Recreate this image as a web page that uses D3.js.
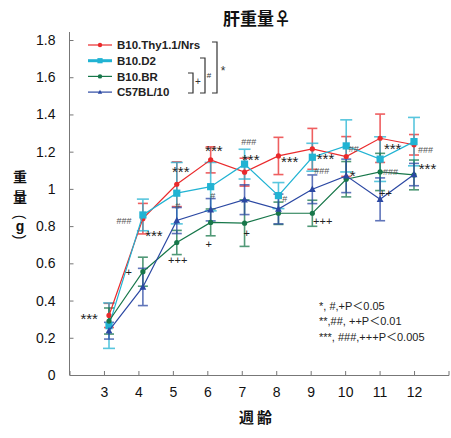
<!DOCTYPE html>
<html>
<head>
<meta charset="utf-8">
<script src="https://cdn.jsdelivr.net/npm/d3@7"></script>
<style>
  body { margin: 0; background: #fff; }
  text { font-family: "Liberation Sans", Arial, sans-serif; }
  .jp { font-family: "Noto Sans CJK JP", sans-serif; }
</style>
</head>
<body>
<script>
// weeks of age
let weeks = [3, 4, 5, 6, 7, 8, 9, 10, 11, 12]

// liver weight (g), mean and error per strain
let thyMean = [0.32, 0.84, 1.025, 1.156, 1.09, 1.177, 1.215, 1.174, 1.272, 1.237]
let thyErr  = [0.065, 0.082, 0.12, 0.07, 0.075, 0.1, 0.11, 0.107, 0.13, 0.055]
let d2Mean  = [0.265, 0.86, 0.977, 1.012, 1.133, 0.964, 1.17, 1.231, 1.16, 1.254]
let d2Err   = [0.122, 0.085, 0.165, 0.13, 0.08, 0.07, 0.075, 0.14, 0.12, 0.13]
let brMean  = [0.29, 0.555, 0.712, 0.82, 0.816, 0.869, 0.869, 1.052, 1.091, 1.075]
let brErr   = [0.07, 0.078, 0.065, 0.072, 0.125, 0.06, 0.07, 0.095, 0.1, 0.08]
let c57Mean = [0.238, 0.473, 0.83, 0.888, 0.942, 0.892, 0.998, 1.07, 0.944, 1.077]
let c57Err  = [0.045, 0.1, 0.07, 0.06, 0.08, 0.08, 0.077, 0.09, 0.115, 0.06]

let seriesNames = ["B10.Thy1.1/Nrs", "B10.D2", "B10.BR", "C57BL/10"]
let yTicks = [0, 0.2, 0.4, 0.6, 0.8, 1, 1.2, 1.4, 1.6, 1.8]

// significance marks: text, week position, value position
let marks = [
  ["***", 2.57, 0.333], ["###", 3.58, 0.83], ["+", 3.72, 0.554], ["***", 4.45, 0.78],
  ["***", 5.23, 1.124], ["#", 5.14, 0.909], ["+++", 5.14, 0.618],
  ["***", 6.19, 1.237], ["#", 6.16, 0.962], ["+", 6.04, 0.704],
  ["###", 7.2, 1.253], ["***", 7.26, 1.188], ["+", 7.14, 0.763],
  ["***", 8.39, 1.177], ["#", 8.25, 0.946],
  ["***", 9.43, 1.193], ["###", 9.32, 1.097], ["+++", 9.35, 0.828],
  ["##", 10.25, 1.215], ["*", 10.22, 1.102],
  ["***", 11.38, 1.247], ["###", 11.32, 1.091], ["++", 11.17, 0.978],
  ["###", 12.33, 1.21], ["***", 12.39, 1.14]
]

// p-value notes, split round the full-width "＜"
let notesLeft = ["*, #,+P", "**,##, ++P", "***, ###,+++P"]
let notesRight = ["0.05", "0.01", "0.005"]

let width = 451, height = 438

let svg = d3.select("body").append("svg")
            .attr("width", width)
            .attr("height", height)

// axis scale and a slightly narrower one for the plotted points (as in the original)
let x = d3.scaleLinear().domain([2, 13]).range([69.5, 448.5])
let xd = d3.scaleLinear().domain([3, 12]).range([109, 414])
let y = d3.scaleLinear().domain([0, 1.8]).range([375, 40])

// axes
let xAxis = svg.append("g")
   .attr("transform", "translate(0,375)")
   .call(d3.axisBottom(x).tickValues(weeks).tickSize(-4).tickPadding(12))
xAxis.select(".domain").attr("stroke", "#777")
xAxis.selectAll(".tick line").attr("stroke", "#777")
xAxis.selectAll(".tick text").attr("font-size", 14).attr("fill", "#111")
  .style("font-family", "Liberation Sans, Arial, sans-serif")

let yAxis = svg.append("g")
   .attr("transform", "translate(69.5,0)")
   .call(d3.axisLeft(y).tickValues(yTicks).tickSize(-4).tickPadding(14)
           .tickFormat(d => d === 0 || d === 1 ? d3.format("d")(d) : d3.format(".1f")(d)))
yAxis.select(".domain").attr("stroke", "#777").attr("d", "M0,375V32")
yAxis.selectAll(".tick line").attr("stroke", "#777")
yAxis.selectAll(".tick text").attr("font-size", 14).attr("fill", "#111")
  .style("font-family", "Liberation Sans, Arial, sans-serif")

let series = [
  {name: seriesNames[0], mean: thyMean, err: thyErr, color: "#ea2a2c", shape: "circle", size: 2.6, capW: 5},
  {name: seriesNames[1], mean: d2Mean,  err: d2Err,  color: "#21b3d3", shape: "square", size: 3.6, capW: 6},
  {name: seriesNames[2], mean: brMean,  err: brErr,  color: "#17774a", shape: "circle", size: 2.6, capW: 5},
  {name: seriesNames[3], mean: c57Mean, err: c57Err, color: "#2b48a3", shape: "triangle", size: 3.4, capW: 5}
]

function drawMarker(g, s, cx, cy) {
  if (s.shape === "circle") {
    g.append("circle").attr("cx", cx).attr("cy", cy).attr("r", s.size).attr("fill", s.color)
  } else if (s.shape === "square") {
    g.append("rect").attr("x", cx - s.size).attr("y", cy - s.size)
     .attr("width", s.size * 2).attr("height", s.size * 2).attr("fill", s.color)
  } else {
    let r = s.size
    g.append("path")
     .attr("d", `M${cx},${cy - r * 1.1}L${cx + r},${cy + r * 0.8}L${cx - r},${cy + r * 0.8}Z`)
     .attr("fill", s.color)
  }
}

let line = d3.line()
  .x(d => xd(d.week))
  .y(d => y(d.value))

// error bars first, then lines and markers
series.forEach(function(s) {
  let pts = weeks.map((w, i) => ({week: w, value: s.mean[i], err: s.err[i]}))
  let eg = svg.append("g").attr("stroke", s.color).attr("stroke-width", 1.6).attr("opacity", 0.75)
  pts.forEach(function(p) {
    let cx = xd(p.week)
    eg.append("line").attr("x1", cx).attr("x2", cx)
      .attr("y1", y(p.value - p.err)).attr("y2", y(p.value + p.err))
    eg.append("line").attr("x1", cx - s.capW).attr("x2", cx + s.capW)
      .attr("y1", y(p.value - p.err)).attr("y2", y(p.value - p.err))
    eg.append("line").attr("x1", cx - s.capW).attr("x2", cx + s.capW)
      .attr("y1", y(p.value + p.err)).attr("y2", y(p.value + p.err))
  })
})

series.forEach(function(s) {
  let pts = weeks.map((w, i) => ({week: w, value: s.mean[i]}))
  svg.append("path")
     .datum(pts)
     .attr("d", line)
     .attr("fill", "none")
     .attr("stroke", s.color)
     .attr("stroke-width", 1.2)
  let mg = svg.append("g")
  pts.forEach(p => drawMarker(mg, s, xd(p.week), y(p.value)))
})

// significance marks
marks.forEach(function(m) {
  let t = m[0]
  let isStar = t[0] === "*"
  let isHash = t[0] === "#"
  svg.append("text")
     .attr("x", x(m[1]))
     .attr("y", y(m[2]))
     .attr("dy", isStar ? "0.75em" : "0.35em")
     .attr("text-anchor", "middle")
     .attr("font-size", isStar ? 15 : (isHash ? 9 : 11))
     .attr("fill", isHash ? "#555" : "#222")
     .text(t)
})

// legend
let legend = svg.append("g")
series.forEach(function(s, i) {
  let ly = 45 + i * 15.7
  legend.append("line").attr("x1", 88).attr("x2", 112).attr("y1", ly).attr("y2", ly)
        .attr("stroke", s.color).attr("stroke-width", s.shape === "square" ? 3 : 1.2)
  drawMarker(legend, {shape: s.shape, color: s.color, size: s.shape === "square" ? 2.6 : 2.2}, 100, ly)
  legend.append("text").attr("x", 117).attr("y", ly).attr("dy", "0.36em")
        .attr("font-size", 11.5).attr("font-weight", "bold").attr("fill", "#222")
        .text(s.name)
})

// brackets between groups
let brackets = [
  {x: 188, y1: 73, y2: 93, label: "+", lx: 198, ly: 81},
  {x: 200, y1: 58, y2: 93, label: "#", lx: 209, ly: 75},
  {x: 212, y1: 42, y2: 93, label: "*", lx: 223, ly: 68}
]
brackets.forEach(function(b) {
  legend.append("path")
        .attr("d", `M${b.x},${b.y1}H${b.x + 5}V${b.y2}H${b.x}`)
        .attr("fill", "none").attr("stroke", "#333").attr("stroke-width", 1.2)
  legend.append("text").attr("x", b.lx).attr("y", b.ly)
        .attr("dy", b.label === "*" ? "0.6em" : "0.35em")
        .attr("text-anchor", "middle")
        .attr("font-size", b.label === "*" ? 12 : (b.label === "#" ? 8 : 10))
        .attr("fill", "#333").text(b.label)
})

// notes
notesLeft.forEach(function(n, i) {
  let t = svg.append("text").attr("x", 319).attr("y", 306 + i * 15.5).attr("dy", "0.35em")
     .attr("font-size", 11).attr("fill", "#222")
  t.append("tspan").text(n)
  t.append("tspan").attr("class", "jp").style("font-family", "Noto Sans CJK JP, sans-serif").text("＜")
  t.append("tspan").text(notesRight[i])
})

// titles
svg.append("text").attr("class", "jp").attr("x", 257).attr("y", 19)
   .attr("dy", "0.35em").attr("text-anchor", "middle")
   .attr("font-size", 17).attr("font-weight", "bold").attr("fill", "#111")
   .text("肝重量♀")

svg.append("text").attr("class", "jp").attr("x", 257).attr("y", 418)
   .attr("dy", "0.35em").attr("text-anchor", "middle")
   .attr("font-size", 15).attr("font-weight", "bold").attr("fill", "#111")
   .attr("letter-spacing", 3)
   .text("週齢")

// vertical y label: 重量 then (g) with turned brackets
let ylab = svg.append("g")
ylab.append("text").attr("class", "jp").attr("x", 20).attr("y", 177)
    .attr("dy", "0.35em").attr("text-anchor", "middle")
    .attr("font-size", 14).attr("font-weight", "bold").attr("fill", "#111").text("重")
ylab.append("text").attr("class", "jp").attr("x", 20).attr("y", 197)
    .attr("dy", "0.35em").attr("text-anchor", "middle")
    .attr("font-size", 14).attr("font-weight", "bold").attr("fill", "#111").text("量")
ylab.append("text").attr("transform", "translate(20,217) rotate(90)")
    .attr("dy", "0.35em").attr("text-anchor", "middle")
    .attr("font-size", 14).attr("fill", "#111").text("(")
ylab.append("text").attr("x", 20).attr("y", 226)
    .attr("dy", "0.35em").attr("text-anchor", "middle")
    .attr("font-size", 14).attr("font-weight", "bold").attr("fill", "#111").text("g")
ylab.append("text").attr("transform", "translate(20,237) rotate(90)")
    .attr("dy", "0.35em").attr("text-anchor", "middle")
    .attr("font-size", 14).attr("fill", "#111").text(")")
</script>
</body>
</html>
